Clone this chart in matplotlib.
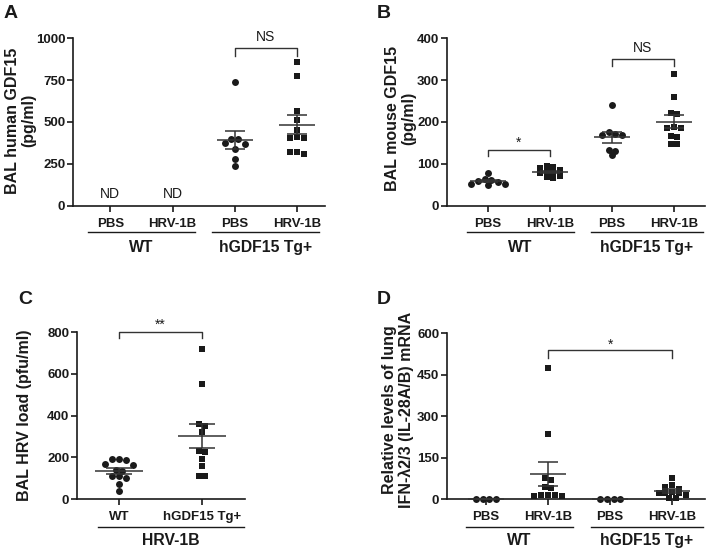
import matplotlib
matplotlib.use('Agg')
import matplotlib.pyplot as plt
import numpy as np

plt.rcParams['font.family'] = ['Liberation Sans', 'DejaVu Sans']

# ---- data ----
four_labels = ['PBS', 'HRV-1B', 'PBS', 'HRV-1B']
group_labels = ['WT', 'hGDF15 Tg+']

# A: BAL human GDF15 (pg/ml), WT groups not detected
a_tg_pbs = [740, 400, 400, 375, 370, 340, 280, 240]
a_tg_hrv = [860, 775, 565, 510, 450, 410, 405, 405, 320, 320, 310]

# B: BAL mouse GDF15 (pg/ml)
b_wt_pbs = [77, 63, 62, 60, 57, 52, 50, 52]
b_wt_hrv = [95, 92, 90, 85, 82, 80, 78, 72, 68, 65]
b_tg_pbs = [240, 175, 172, 168, 168, 133, 130, 120]
b_tg_hrv = [315, 260, 222, 220, 188, 185, 185, 167, 165, 147, 147]

# C: BAL HRV load (pfu/ml), HRV-1B infected
c_labels = ['WT', 'hGDF15 Tg+']
c_wt = [190, 190, 185, 170, 165, 140, 135, 110, 110, 100, 70, 40]
c_tg = [720, 550, 360, 350, 320, 230, 225, 190, 160, 110, 110]

# D: relative IFN-lambda2/3 mRNA
d_wt_pbs = [0, 0, 0, 0]
d_wt_hrv = [475, 237, 77, 70, 43, 40, 15, 14, 13, 12, 10]
d_tg_pbs = [0, 0, 0, 0]
d_tg_hrv = [77, 50, 42, 38, 25, 22, 20, 20, 15, 5, 3]

INK = '#1a1a1a'
LINE = '#333333'
W, H = 706, 552

fig = plt.figure(figsize=(W / 100, H / 100), dpi=100)


def make_axes(l, r, t, b, xlim, ylim, yticks, xlabels):
    ax = fig.add_axes([l / W, 1 - b / H, (r - l) / W, (b - t) / H])
    ax.set_xlim(*xlim)
    ax.set_ylim(*ylim)
    ax.set_yticks(yticks)
    ax.set_xticks(range(len(xlabels)))
    ax.set_xticklabels(xlabels, fontsize=9.5, fontweight='bold', color=INK)
    for lab in ax.get_yticklabels():
        lab.set_fontsize(9.5)
        lab.set_fontweight('bold')
        lab.set_color(INK)
    for s in ['top', 'right']:
        ax.spines[s].set_visible(False)
    for s in ['left', 'bottom']:
        ax.spines[s].set_linewidth(1.2)
        ax.spines[s].set_color(INK)
    ax.tick_params(axis='y', length=4, width=1.2, pad=1.5, colors=INK)
    ax.tick_params(axis='x', length=4, width=1.2, pad=4.5, colors=INK)
    return ax


def row_offsets(ax, vals, size_px):
    # Prism-like scatter: points with close values share a row, spread symmetrically
    t = ax.transData
    px_x = t.transform((1, 0))[0] - t.transform((0, 0))[0]
    px_y = t.transform((0, 1))[1] - t.transform((0, 0))[1]
    vals = np.asarray(vals, float)
    order = np.argsort(-vals)
    offs = np.zeros(len(vals))
    rows, cur = [], [order[0]]
    for i in order[1:]:
        if (vals[cur[0]] - vals[i]) * px_y < size_px * 0.8:
            cur.append(i)
        else:
            rows.append(cur)
            cur = [i]
    rows.append(cur)
    for row in rows:
        n = len(row)
        pos = (np.arange(n) - (n - 1) / 2) * size_px
        # interleave so the middle of the row gets the first values
        pos = sorted(pos, key=lambda p: (abs(p), p))
        for i, p in zip(row, pos):
            offs[i] = p / px_x
    return offs


def dot_group(ax, x, vals, marker):
    vals = np.asarray(vals, float)
    size = 5.0 if marker == 'o' else 4.8
    xs = x + row_offsets(ax, vals, 6.8)
    ax.scatter(xs, vals, s=size ** 2, marker=marker, color=INK,
               linewidths=0, zorder=3, clip_on=False)
    m = vals.mean()
    sem = vals.std(ddof=1) / np.sqrt(len(vals))
    ax.hlines(m, x - 0.29, x + 0.29, color=LINE, lw=1.1, zorder=4, clip_on=False)
    ax.vlines(x, m - sem, m + sem, color=LINE, lw=1.1, zorder=4, clip_on=False)
    ax.hlines([m - sem, m + sem], x - 0.16, x + 0.16, color=LINE, lw=1.1,
              zorder=4, clip_on=False)


def bracket(ax, x1, x2, y, drop, label, ty):
    ax.plot([x1, x1, x2, x2], [y - drop, y, y, y - drop], color=LINE, lw=1.0,
            clip_on=False, zorder=4)
    ax.text((x1 + x2) / 2, ty, label, ha='center', va='center',
            fontsize=10, color=INK, clip_on=False)


def group_line(ax, x1, x2, label, yl=-0.16, yt=-0.25):
    tr = ax.get_xaxis_transform()
    ax.plot([x1, x2], [yl, yl], color=INK, lw=1.0, transform=tr, clip_on=False)
    ax.text((x1 + x2) / 2, yt, label, transform=tr, ha='center', va='center',
            fontsize=11.3, fontweight='bold', color=INK)


def ylabel(ax, text, xc, yc=0.5):
    ax.set_ylabel(text, fontsize=11.5, fontweight='bold', color=INK,
                  linespacing=1.1, va='center')
    ax.yaxis.set_label_coords(xc, yc)


# ---- panel A ----
axA = make_axes(73, 325, 38.3, 205.7, (-0.6, 3.45), (0, 1000),
                [0, 250, 500, 750, 1000], four_labels)
dot_group(axA, 2, a_tg_pbs, 'o')
dot_group(axA, 3, a_tg_hrv, 's')
axA.text(0, 70, 'ND', ha='center', va='center', fontsize=10, color=INK)
axA.text(1, 70, 'ND', ha='center', va='center', fontsize=10, color=INK)
bracket(axA, 2, 3, 940, 45, 'NS', 1006)
ylabel(axA, 'BAL human GDF15\n(pg/ml)', -0.206, 0.51)
group_line(axA, -0.36, 1.36, group_labels[0])
group_line(axA, 1.64, 3.36, group_labels[1])

# ---- panel B ----
axB = make_axes(447, 705, 38.3, 205.7, (-0.66, 3.5), (0, 400),
                [0, 100, 200, 300, 400], four_labels)
dot_group(axB, 0, b_wt_pbs, 'o')
dot_group(axB, 1, b_wt_hrv, 's')
dot_group(axB, 2, b_tg_pbs, 'o')
dot_group(axB, 3, b_tg_hrv, 's')
bracket(axB, 0, 1, 133, 15, '*', 150)
bracket(axB, 2, 3, 350, 15, 'NS', 377)
ylabel(axB, 'BAL mouse GDF15\n(pg/ml)', -0.18, 0.52)
group_line(axB, -0.34, 1.38, group_labels[0])
group_line(axB, 1.66, 3.46, group_labels[1])

# ---- panel C ----
axC = make_axes(77, 245, 332.3, 499, (-0.506, 1.518), (0, 800),
                [0, 200, 400, 600, 800], c_labels)
dot_group(axC, 0, c_wt, 'o')
dot_group(axC, 1, c_tg, 's')
bracket(axC, 0, 1, 800, 25, '**', 835)
ylabel(axC, 'BAL HRV load (pfu/ml)', -0.31, 0.5)
group_line(axC, -0.25, 1.5, 'HRV-1B', yl=-0.168, yt=-0.25)

# ---- panel D ----
axD = make_axes(447, 705, 333.3, 499, (-0.63, 3.53), (0, 600),
                [0, 150, 300, 450, 600], four_labels)
dot_group(axD, 0, d_wt_pbs, 'o')
dot_group(axD, 1, d_wt_hrv, 's')
dot_group(axD, 2, d_tg_pbs, 'o')
dot_group(axD, 3, d_tg_hrv, 's')
bracket(axD, 1, 3, 540, 30, '*', 560)
ylabel(axD, 'Relative levels of lung\nIFN-\u03bb2/3 (IL-28A/B) mRNA', -0.19, 0.54)
group_line(axD, -0.32, 1.4, group_labels[0], yl=-0.168, yt=-0.25)
group_line(axD, 1.69, 3.5, group_labels[1], yl=-0.168, yt=-0.25)

# panel letters
for letter, (px, py) in zip('ABCD', [(4, 14), (377, 14), (18, 300), (377, 300)]):
    fig.text(px / W, 1 - py / H, letter, fontsize=14, fontweight='bold',
             color=INK, ha='left', va='center')

fig.savefig('out.png', dpi=100, facecolor='white')
